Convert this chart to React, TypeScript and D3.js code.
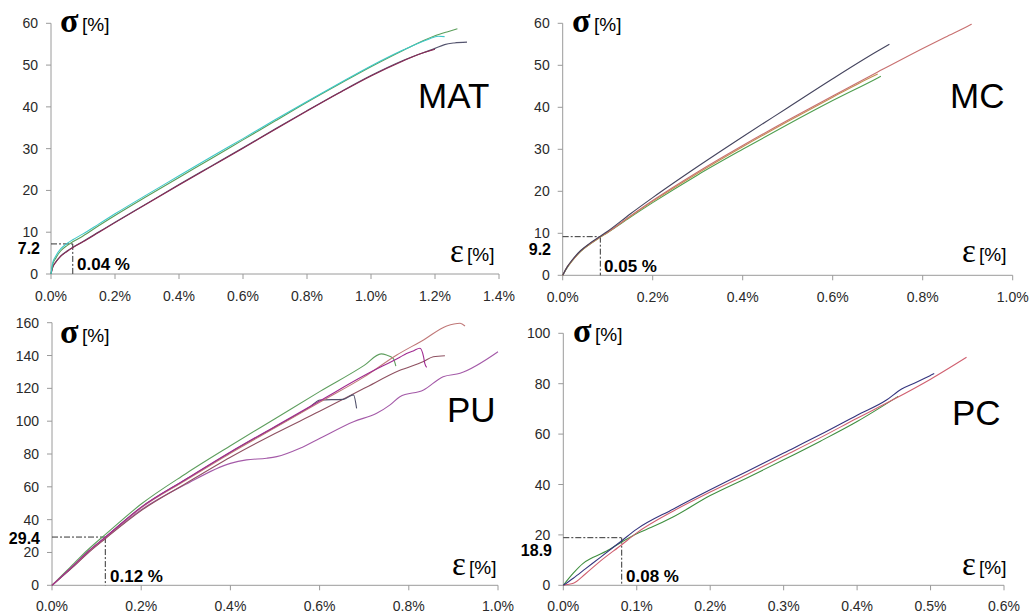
import React from 'react';
import * as d3 from 'd3';

type Pt = [number, number];

// ---------- MAT ----------
const matXTicks = [0, 0.2, 0.4, 0.6, 0.8, 1.0, 1.2, 1.4];
const matYTicks = [0, 10, 20, 30, 40, 50, 60];
const matGreen: Pt[] = [[0,0],[0.005,2.2],[0.015,3.8],[0.03,5.5],[0.05,6.8],[0.068,7.7],[0.1,9.1],[0.15,11.6],[0.2,14.0],[0.3,18.6],[0.4,23.1],[0.5,27.6],[0.6,32.1],[0.7,36.6],[0.8,41.1],[0.9,45.4],[1.0,49.6],[1.1,53.5],[1.2,57.0],[1.24,58.0],[1.27,58.7]];
const matCyan: Pt[] = [[0,0],[0.005,2.6],[0.015,4.3],[0.03,6.0],[0.05,7.3],[0.068,8.2],[0.1,9.6],[0.15,12.0],[0.2,14.4],[0.3,19.0],[0.4,23.5],[0.5,28.0],[0.6,32.4],[0.7,36.9],[0.8,41.3],[0.9,45.6],[1.0,49.8],[1.1,53.6],[1.18,56.2],[1.21,56.9],[1.23,56.8]];
const matMaroon: Pt[] = [[0,0],[0.005,1.5],[0.015,2.8],[0.03,4.2],[0.05,5.4],[0.068,6.3],[0.1,7.7],[0.15,10.0],[0.2,12.3],[0.3,16.8],[0.4,21.3],[0.5,25.7],[0.6,30.1],[0.7,34.6],[0.8,39.0],[0.9,43.3],[1.0,47.4],[1.1,51.0],[1.15,52.6],[1.2,53.8]];
const matSlate: Pt[] = [[0,0],[0.005,1.6],[0.015,2.9],[0.03,4.3],[0.05,5.5],[0.068,6.4],[0.1,7.8],[0.15,10.1],[0.2,12.4],[0.3,16.9],[0.4,21.4],[0.5,25.8],[0.6,30.2],[0.7,34.7],[0.8,39.1],[0.9,43.4],[1.0,47.5],[1.1,51.1],[1.2,54.0],[1.23,54.9],[1.26,55.3],[1.3,55.5]];

// ---------- MC ----------
const mcXTicks = [0, 0.2, 0.4, 0.6, 0.8, 1.0];
const mcYTicks = [0, 10, 20, 30, 40, 50, 60];
const mcNavy: Pt[] = [[0,0],[0.01,2],[0.02,3.5],[0.04,5.9],[0.06,7.6],[0.0836,9.3],[0.1,10.5],[0.15,14.6],[0.2,18.5],[0.3,25.9],[0.4,33.0],[0.5,39.9],[0.6,46.8],[0.7,53.4],[0.726,55.0]];
const mcRed: Pt[] = [[0,0],[0.01,2],[0.02,3.4],[0.04,5.8],[0.06,7.5],[0.0836,9.2],[0.1,10.3],[0.15,14.1],[0.2,17.8],[0.3,24.6],[0.4,30.9],[0.5,36.9],[0.6,42.7],[0.7,48.4],[0.8,54.0],[0.85,56.7],[0.9,59.3],[0.909,59.8]];
const mcOrange: Pt[] = [[0,0],[0.01,1.9],[0.02,3.3],[0.04,5.7],[0.06,7.4],[0.0836,9.1],[0.1,10.2],[0.15,14.0],[0.2,17.6],[0.3,24.3],[0.4,30.6],[0.5,36.6],[0.6,42.4],[0.66,45.8],[0.7,47.9]];
const mcGreen: Pt[] = [[0,0],[0.01,1.8],[0.02,3.3],[0.04,5.7],[0.06,7.4],[0.0836,9.1],[0.1,10.2],[0.15,13.8],[0.2,17.3],[0.3,23.9],[0.4,30.0],[0.5,35.9],[0.6,41.6],[0.7,47.0],[0.707,47.4]];

// ---------- PU ----------
const puXTicks = [0, 0.2, 0.4, 0.6, 0.8, 1.0];
const puYTicks = [0, 20, 40, 60, 80, 100, 120, 140, 160];
const puGreen: Pt[] = [[0,0],[0.02,5.5],[0.05,13.5],[0.08,21.5],[0.12,31],[0.2,49.5],[0.3,68],[0.4,85],[0.5,101.5],[0.6,118],[0.7,134],[0.738,141],[0.75,140.3],[0.765,138.3],[0.771,133.6]];
const puBrown: Pt[] = [[0,0],[0.02,4.7],[0.05,11.8],[0.08,19.5],[0.12,28.5],[0.2,45.5],[0.3,62],[0.4,78],[0.5,92.5],[0.6,106],[0.7,120],[0.78,131],[0.833,136.3],[0.855,139.3],[0.881,139.9]];
const puPurple: Pt[] = [[0,0],[0.02,4.8],[0.05,12],[0.08,19.7],[0.12,28.8],[0.2,46],[0.3,61.5],[0.4,74.3],[0.436,76.4],[0.481,77.4],[0.504,78.4],[0.556,83.5],[0.601,89.6],[0.676,99.7],[0.728,104.8],[0.758,109.9],[0.78,114.9],[0.833,119],[0.877,127.1],[0.915,129.2],[1.0,142.3]];
const puGray: Pt[] = [[0,0],[0.02,5],[0.05,12.5],[0.08,20.3],[0.12,29.4],[0.2,47.5],[0.3,64.5],[0.4,81],[0.5,96.5],[0.58,109],[0.601,112.9],[0.653,113.3],[0.676,116],[0.683,107.8]];
const puRed: Pt[] = [[0,0],[0.02,5],[0.05,12.4],[0.08,20.1],[0.12,29.2],[0.2,47.2],[0.3,64],[0.4,80.5],[0.5,96],[0.6,111.5],[0.7,127],[0.773,140.3],[0.833,149.5],[0.885,158],[0.915,159.7],[0.926,158]];
const puMagenta: Pt[] = [[0,0],[0.02,5],[0.05,12.6],[0.08,20.4],[0.12,29.4],[0.2,47.6],[0.3,64.6],[0.4,81.2],[0.5,96.8],[0.6,112.3],[0.7,127.8],[0.78,139],[0.795,141.2],[0.81,142.8],[0.825,144.4],[0.833,139.3],[0.836,135],[0.84,132.8]];

// ---------- PC ----------
const pcXTicks = [0, 0.1, 0.2, 0.3, 0.4, 0.5, 0.6];
const pcYTicks = [0, 20, 40, 60, 80, 100];
const pcGreen: Pt[] = [[0,0],[0.0136,4.8],[0.027,8.7],[0.04,11],[0.059,13.6],[0.08,17.3],[0.1,20.5],[0.12,23],[0.15,27.2],[0.2,35.6],[0.25,42.6],[0.3,49.8],[0.35,57.2],[0.4,65],[0.456,75]];
const pcRed: Pt[] = [[0,0],[0.005,0.3],[0.0136,0.8],[0.03,4.5],[0.05,9.5],[0.08,16.2],[0.1,20.8],[0.15,29.5],[0.2,37],[0.25,44],[0.3,51.3],[0.35,58.6],[0.4,66.3],[0.45,73.8],[0.5,81.8],[0.549,90.5]];
const pcNavy: Pt[] = [[0,0],[0.0136,2.8],[0.03,6.5],[0.05,11],[0.08,17.8],[0.1,22.3],[0.15,30.3],[0.2,37.9],[0.25,45.2],[0.3,52.5],[0.35,59.8],[0.4,67.5],[0.44,73.5],[0.46,77.8],[0.48,80.5],[0.5,83.3],[0.505,84]];

// ---------- annotations ----------
const panelNames = ['MAT', 'MC', 'PU', 'PC'];
const yieldStress = [7.2, 9.2, 29.4, 18.9];
const yieldStrainPos = [0.068, 0.0836, 0.1195, 0.0795];
const yieldStressLabels = ['7.2', '9.2', '29.4', '18.9'];
const yieldStrainLabels = ['0.04 %', '0.05 %', '0.12 %', '0.08 %'];

type Series = { data: Pt[]; color: string };
const panels = [
  {
    box: { l: 51, r: 499, t: 23.3, b: 274 }, xMax: 1.4, yMax: 60, xTicks: matXTicks, yTicks: matYTicks,
    series: [
      { data: matSlate, color: '#55556f' }, { data: matMaroon, color: '#8a2a55' },
      { data: matGreen, color: '#5a9e5a' }, { data: matCyan, color: '#3ec8c8' },
    ] as Series[],
    sigma: [60, 32], eps: [450, 261.7], name: [418, 108], sLab: [40, 253.5], eLab: [77, 270], xLabDy: 27,
  },
  {
    box: { l: 562.7, r: 1012.7, t: 23.3, b: 275.3 }, xMax: 1.0, yMax: 60, xTicks: mcXTicks, yTicks: mcYTicks,
    series: [
      { data: mcGreen, color: '#4f9f4f' }, { data: mcOrange, color: '#c49050' },
      { data: mcRed, color: '#c87070' }, { data: mcNavy, color: '#44445e' },
    ] as Series[],
    sigma: [572, 32], eps: [962, 261.7], name: [950, 108], sLab: [551, 255], eLab: [604, 271.5], xLabDy: 27,
  },
  {
    box: { l: 52, r: 498, t: 322.7, b: 585.3 }, xMax: 1.0, yMax: 160, xTicks: puXTicks, yTicks: puYTicks,
    series: [
      { data: puPurple, color: '#a45aa8' }, { data: puBrown, color: '#8e5060' },
      { data: puGray, color: '#50506a' }, { data: puGreen, color: '#5e9e5e' },
      { data: puRed, color: '#c07878' }, { data: puMagenta, color: '#a02a90' },
    ] as Series[],
    sigma: [60, 343], eps: [452, 575], name: [447, 422], sLab: [40, 543.5], eLab: [110, 581.5], xLabDy: 26,
  },
  {
    box: { l: 563.3, r: 1004, t: 333.3, b: 585.3 }, xMax: 0.6, yMax: 100, xTicks: pcXTicks, yTicks: pcYTicks,
    series: [
      { data: pcGreen, color: '#3f8f3f' }, { data: pcRed, color: '#d06070' }, { data: pcNavy, color: '#34347e' },
    ] as Series[],
    sigma: [573, 342], eps: [962, 575], name: [952, 425], sLab: [552, 555.5], eLab: [626, 581.7], xLabDy: 26,
  },
];

const SANS = '"Liberation Sans", Arial, sans-serif';
const SERIF = '"Liberation Serif", "Times New Roman", serif';

export default function App() {
  return (
    <svg width={1030} height={615} style={{ position: 'absolute', left: 0, top: 0, background: '#fff' }}>
      {panels.map((p, i) => {
        const x = d3.scaleLinear().domain([0, p.xMax]).range([p.box.l, p.box.r]);
        const y = d3.scaleLinear().domain([0, p.yMax]).range([p.box.b, p.box.t]);
        const line = d3.line<Pt>().x((d) => x(d[0])).y((d) => y(d[1])).curve(d3.curveMonotoneX);
        const ys = y(yieldStress[i]);
        const xs = x(yieldStrainPos[i]);
        return (
          <g key={i}>
            <line x1={p.box.l} x2={p.box.r} y1={p.box.b} y2={p.box.b} stroke="#9a9a9a" strokeWidth={1} />
            <line x1={p.box.l} x2={p.box.l} y1={p.box.t} y2={p.box.b} stroke="#9a9a9a" strokeWidth={1} />
            {p.xTicks.map((t) => (
              <g key={'x' + t}>
                <line x1={x(t)} x2={x(t)} y1={p.box.b} y2={p.box.b + 5} stroke="#9a9a9a" />
                <text x={x(t)} y={p.box.b + p.xLabDy} textAnchor="middle" fontFamily={SANS} fontSize={14} fill="#2a2a2a">
                  {t.toFixed(1) + '%'}
                </text>
              </g>
            ))}
            {p.yTicks.map((t) => (
              <g key={'y' + t}>
                <line x1={p.box.l - 5} x2={p.box.l} y1={y(t)} y2={y(t)} stroke="#9a9a9a" />
                <text x={p.box.l - 13} y={y(t) + 5} textAnchor="end" fontFamily={SANS} fontSize={14} fill="#2a2a2a">
                  {t}
                </text>
              </g>
            ))}
            <line x1={p.box.l} x2={xs} y1={ys} y2={ys} stroke="#333" strokeWidth={1} strokeDasharray="6 2 2 2" />
            <line x1={xs} x2={xs} y1={ys} y2={p.box.b} stroke="#333" strokeWidth={1} strokeDasharray="6 2 2 2" />
            {p.series.map((s, j) => (
              <path key={j} d={line(s.data) || ''} fill="none" stroke={s.color} strokeWidth={1.1} />
            ))}
            <text x={p.sigma[0]} y={p.sigma[1]} fontFamily={SERIF} fontWeight="bold" fontSize={34} fill="#000">σ</text>
            <text x={p.sigma[0] + 22} y={p.sigma[1] - 1} fontFamily={SANS} fontSize={19} fill="#000">[%]</text>
            <text x={p.eps[0]} y={p.eps[1]} fontFamily={SERIF} fontSize={33} fill="#000">ε</text>
            <text x={p.eps[0] + 17} y={p.eps[1] - 1} fontFamily={SANS} fontSize={19} fill="#000">[%]</text>
            <text x={p.name[0]} y={p.name[1]} fontFamily={SANS} fontSize={35} fill="#000">{panelNames[i]}</text>
            <text x={p.sLab[0]} y={p.sLab[1]} textAnchor="end" fontFamily={SANS} fontWeight="bold" fontSize={16} fill="#000">
              {yieldStressLabels[i]}
            </text>
            <text x={p.eLab[0]} y={p.eLab[1]} fontFamily={SANS} fontWeight="bold" fontSize={17} fill="#000">
              {yieldStrainLabels[i]}
            </text>
          </g>
        );
      })}
    </svg>
  );
}
